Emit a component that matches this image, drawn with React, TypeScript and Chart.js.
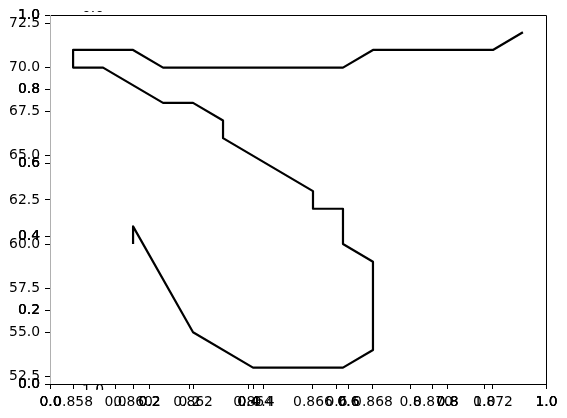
import React, { useEffect, useRef } from "react";
import { Chart, registerables } from "chart.js";

Chart.register(...registerables);

const xValues = [0.86, 0.86, 0.862, 0.864, 0.867, 0.868, 0.868, 0.867, 0.867, 0.866, 0.866, 0.863, 0.863, 0.862, 0.861, 0.859, 0.858, 0.858, 0.86, 0.861, 0.867, 0.868, 0.872, 0.873];
const yValues = [60, 61, 55, 53, 53, 54, 59, 60, 62, 62, 63, 66, 67, 68, 68, 70, 70, 71, 71, 70, 70, 71, 71, 72];
const xTickValues = [0.858, 0.86, 0.862, 0.864, 0.866, 0.868, 0.87, 0.872];
const yTickValues = [52.5, 55, 57.5, 60, 62.5, 65, 67.5, 70, 72.5];
const overlayTicks = [0, 0.2, 0.4, 0.6, 0.8, 1.0];

const FONT = '13.9px "DejaVu Sans"';
const LABEL_OFFSET = 18;

function drawLabel(ctx: any, text: string, x: number, y: number, times: number) {
  for (let i = 0; i < times; i++) ctx.fillText(text, x, y);
}

const overlayPlugin = {
  id: "overlay",
  afterDraw(chart: any) {
    const ctx = chart.ctx;
    const { left, right, top, bottom } = chart.chartArea;
    const x2 = chart.scales.x2;
    const y2 = chart.scales.y2;
    const x3 = chart.scales.x3;
    ctx.save();
    // spines
    ctx.lineWidth = 1;
    ctx.strokeStyle = "#000";
    ctx.beginPath();
    ctx.moveTo(left, top + 0.5);
    ctx.lineTo(right + 0.5, top + 0.5);
    ctx.lineTo(right + 0.5, bottom + 0.5);
    ctx.lineTo(left, bottom + 0.5);
    ctx.stroke();
    ctx.strokeStyle = "#b0b0b0";
    ctx.beginPath();
    ctx.moveTo(left + 0.5, top);
    ctx.lineTo(left + 0.5, bottom);
    ctx.stroke();

    ctx.font = FONT;
    ctx.fillStyle = "#000";
    ctx.strokeStyle = "#000";
    ctx.textAlign = "center";
    ctx.textBaseline = "middle";
    // third overlapping x axis
    for (const v of overlayTicks) {
      const px = Math.round(x3.getPixelForValue(v)) + 0.5;
      ctx.beginPath();
      ctx.moveTo(px, bottom);
      ctx.lineTo(px, bottom + 5);
      ctx.stroke();
      drawLabel(ctx, v.toFixed(1), px, bottom + LABEL_OFFSET, 1);
    }
    // overlay x ticks
    for (const v of overlayTicks) {
      const px = Math.round(x2.getPixelForValue(v)) + 0.5;
      ctx.beginPath();
      ctx.moveTo(px, bottom);
      ctx.lineTo(px, bottom + 5);
      ctx.stroke();
      drawLabel(ctx, v.toFixed(1), px, bottom + LABEL_OFFSET, 3);
    }
    // overlay y ticks
    ctx.textAlign = "right";
    for (const v of overlayTicks) {
      const py = Math.round(y2.getPixelForValue(v)) + 0.5;
      ctx.beginPath();
      ctx.moveTo(left - 5, py);
      ctx.lineTo(left, py);
      ctx.stroke();
      drawLabel(ctx, v.toFixed(1), left - 10, py, 3);
    }
    // partially hidden labels
    ctx.textAlign = "center";
    ctx.beginPath();
    ctx.moveTo(97.5, bottom);
    ctx.lineTo(97.5, bottom + 5);
    ctx.stroke();
    ctx.save();
    ctx.beginPath();
    ctx.rect(0, 11, chart.width, 4);
    ctx.clip();
    ctx.fillText("0.0", 93, 8);
    ctx.restore();
    ctx.save();
    ctx.beginPath();
    ctx.rect(0, bottom + 1, chart.width, 5);
    ctx.clip();
    ctx.fillText("1.0", 93, bottom + 6);
    ctx.restore();
    ctx.restore();
  },
};

export default function App() {
  const canvasRef = useRef<HTMLCanvasElement | null>(null);
  useEffect(() => {
    document.body.style.margin = "0";
    const canvas = canvasRef.current;
    if (!canvas) return;
    const points = xValues.map((x, i) => ({ x, y: yValues[i] }));
    const chart = new Chart(canvas, {
      type: "scatter",
      data: {
        datasets: [
          {
            data: points,
            showLine: true,
            borderColor: "#000",
            borderWidth: 2.2,
            borderJoinStyle: "round",
            pointRadius: 0,
            pointHoverRadius: 0,
            tension: 0,
          },
        ],
      },
      options: {
        responsive: false,
        animation: false,
        devicePixelRatio: 1,
        events: [],
        layout: { padding: { top: 15, right: 21, left: 0, bottom: 0 } },
        plugins: { legend: { display: false }, tooltip: { enabled: false } },
        scales: {
          x: {
            type: "linear",
            min: 0.85723,
            max: 0.87377,
            afterBuildTicks: (s: any) => {
              s.ticks = xTickValues.map((v) => ({ value: v }));
            },
            afterFit: (s: any) => {
              s.height = 34;
            },
            ticks: {
              autoSkip: false,
              maxRotation: 0,
              padding: 5,
              color: "#000",
              font: { family: "DejaVu Sans", size: 13.9 },
              callback: (v: any) => Number(v).toFixed(3),
            },
            grid: { display: true, drawOnChartArea: false, drawTicks: true, tickLength: 5, color: "#000", lineWidth: 1 },
            border: { display: false },
          },
          y: {
            type: "linear",
            min: 52.07,
            max: 72.98,
            afterBuildTicks: (s: any) => {
              s.ticks = yTickValues.map((v) => ({ value: v }));
            },
            afterFit: (s: any) => {
              s.width = 50;
            },
            ticks: {
              autoSkip: false,
              padding: 5,
              color: "#000",
              font: { family: "DejaVu Sans", size: 13.9 },
              callback: (v: any) => Number(v).toFixed(1),
            },
            grid: { display: true, drawOnChartArea: false, drawTicks: true, tickLength: 5, color: "#000", lineWidth: 1 },
            border: { display: false },
          },
          x2: { type: "linear", display: false, min: 0, max: 1, position: "bottom" },
          x3: { type: "linear", display: false, min: -0.1762, max: 1.168, position: "bottom" },
          y2: { type: "linear", display: false, min: 0, max: 1, position: "left" },
        },
      },
      plugins: [overlayPlugin],
    } as any);
    return () => chart.destroy();
  }, []);
  return (
    <div style={{ width: 567, height: 418 }}>
      <canvas ref={canvasRef} width={567} height={418} style={{ display: "block" }} />
    </div>
  );
}
